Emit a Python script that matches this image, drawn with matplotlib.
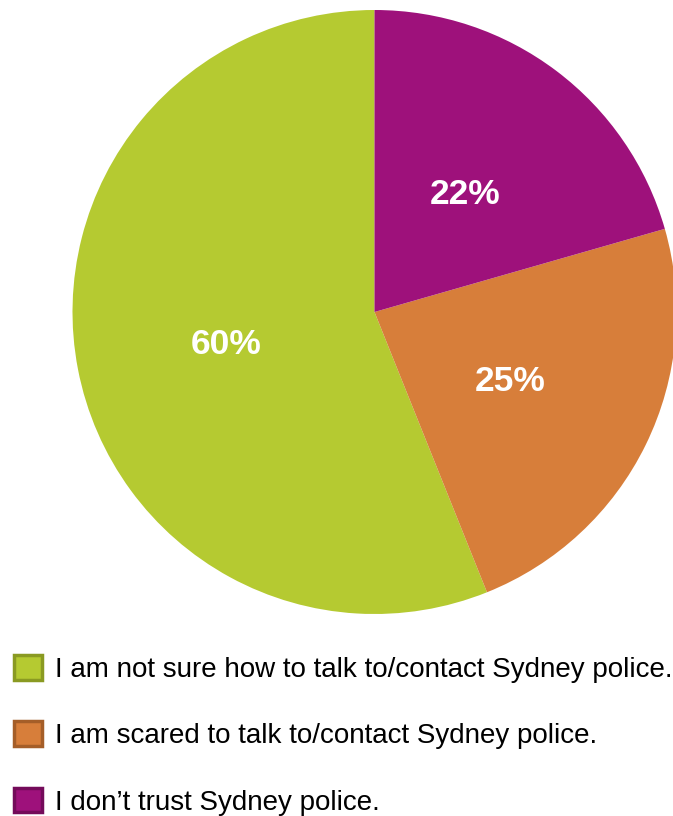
import matplotlib
matplotlib.use("Agg")
import matplotlib.pyplot as plt
from matplotlib.patches import Patch
import numpy as np

labels = ["I am not sure how to talk to/contact Sydney police.",
          "I am scared to talk to/contact Sydney police.",
          "I don\u2019t trust Sydney police."]
values = [60, 25, 22]
pct_labels = ["60%", "25%", "22%"]
colors = ["#B5CA31", "#D77E3A", "#9E117B"]
edge_colors = ["#8A9A22", "#A55E28", "#740B5A"]

plt.rcParams['font.family'] = ['Liberation Sans', 'DejaVu Sans']

W, H = 673, 816
fig = plt.figure(figsize=(W / 100, H / 100), dpi=100)
cx, cy, r = 374.5, 312, 302
ax = fig.add_axes([(cx - r) / W, (H - cy - r) / H, 2 * r / W, 2 * r / H])

wedges, _ = ax.pie(values, colors=colors, startangle=90, counterclock=True,
                   wedgeprops=dict(linewidth=0))
for w, t in zip(wedges, pct_labels):
    ang = np.deg2rad((w.theta1 + w.theta2) / 2)
    ax.text(0.5 * np.cos(ang), 0.5 * np.sin(ang), t, ha='center', va='center_baseline',
            color='white', fontsize=25.5, fontweight='bold')
ax.set_xlim(-1, 1)
ax.set_ylim(-1, 1)
ax.set_aspect('equal')
ax.axis('off')

handles = [Patch(facecolor=c, edgecolor=e, linewidth=2.5) for c, e in zip(colors, edge_colors)]
fig.legend(handles, labels, loc='upper left', bbox_to_anchor=(14 / W, 1 - 655 / H),
           frameon=False, fontsize=20, handlelength=1.0, handleheight=1.0,
           handletextpad=0.47, labelspacing=1.38, borderpad=0, borderaxespad=0)

fig.savefig("out.png", dpi=100)
